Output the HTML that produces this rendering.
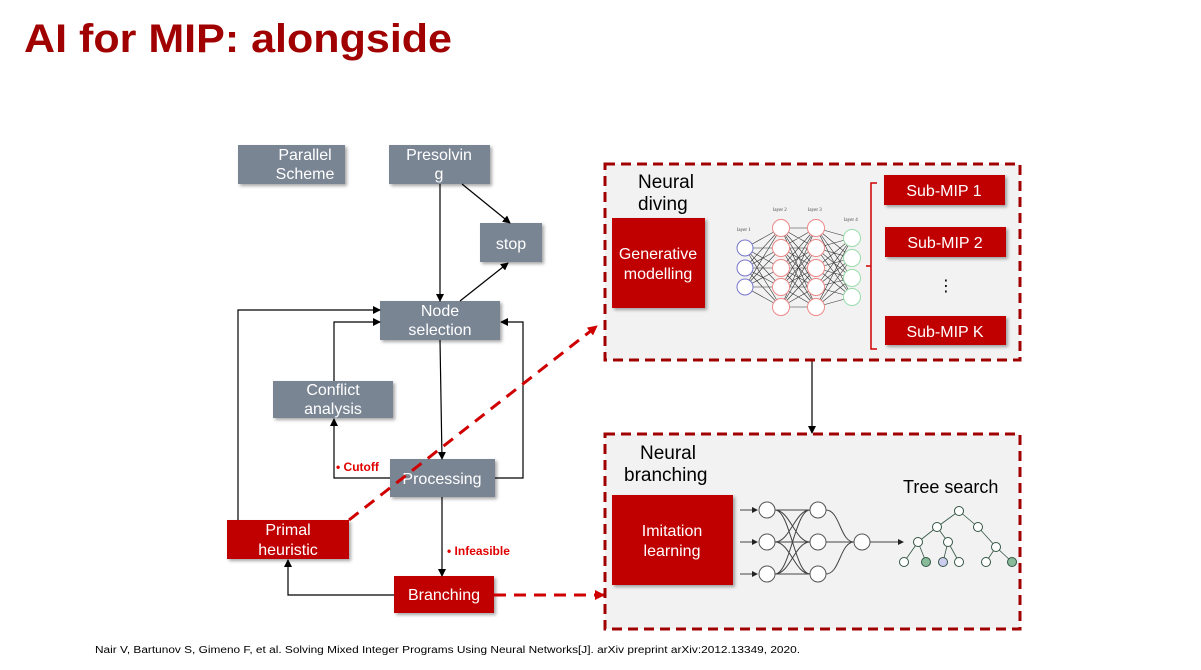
<!DOCTYPE html><html><head><style>
body{margin:0;width:1201px;height:665px;background:#fff;overflow:hidden;font-family:"Liberation Sans","DejaVu Sans",sans-serif;}
</style></head><body>
<svg width="1201" height="665" viewBox="0 0 1201 665" xmlns="http://www.w3.org/2000/svg" font-family="Liberation Sans, DejaVu Sans, sans-serif">
<defs>
<marker id="a" markerWidth="8" markerHeight="8" refX="7" refY="4" orient="auto" markerUnits="userSpaceOnUse"><path d="M0,0 L8,4 L0,8 z" fill="#000"/></marker>
<marker id="r" markerWidth="10" markerHeight="10" refX="9" refY="5" orient="auto" markerUnits="userSpaceOnUse"><path d="M0,0 L10,5 L0,10 z" fill="#d00000"/></marker>
<marker id="s" markerWidth="6" markerHeight="6" refX="5" refY="3" orient="auto" markerUnits="userSpaceOnUse"><path d="M0,0 L6,3 L0,6 z" fill="#222"/></marker>
<filter id="sh"><feDropShadow dx="2" dy="2" stdDeviation="1.5" flood-opacity="0.35"/></filter>
</defs>
<text x="24" y="52" font-size="40" font-weight="bold" fill="#a00000" textLength="428" lengthAdjust="spacingAndGlyphs">AI for MIP: alongside</text>

<g filter="url(#sh)">
<rect x="238" y="145" width="107" height="39" fill="#7a8594"/>
<rect x="389" y="145" width="101" height="39" fill="#7a8594"/>
<rect x="480" y="223" width="62" height="39" fill="#7a8594"/>
<rect x="380" y="301" width="120" height="39" fill="#7a8594"/>
<rect x="273" y="381" width="120" height="37" fill="#7a8594"/>
<rect x="390" y="459" width="105" height="38" fill="#7a8594"/>
<rect x="227" y="520" width="122" height="39" fill="#c00000"/>
<rect x="394" y="576" width="100" height="37" fill="#c00000"/>
</g>
<g fill="#fff" font-size="16" text-anchor="middle">
<text x="305" y="160">Parallel</text><text x="305" y="179">Scheme</text>
<text x="439" y="160">Presolvin</text><text x="439" y="179">g</text>
<text x="511" y="249">stop</text>
<text x="440" y="316">Node</text><text x="440" y="335">selection</text>
<text x="333" y="395">Conflict</text><text x="333" y="414">analysis</text>
<text x="442" y="484">Processing</text>
<text x="288" y="535">Primal</text><text x="288" y="555">heuristic</text>
<text x="444" y="600">Branching</text>
</g>
<g stroke="#000" stroke-width="1.2" fill="none">
<line x1="440" y1="184" x2="440" y2="301" marker-end="url(#a)"/>
<line x1="462" y1="184" x2="510" y2="223" marker-end="url(#a)"/>
<line x1="460" y1="301" x2="508" y2="263" marker-end="url(#a)"/>
<line x1="440" y1="340" x2="442" y2="459" marker-end="url(#a)"/>
<line x1="442" y1="497" x2="442" y2="576" marker-end="url(#a)"/>
<polyline points="394,595 288,595 288,560" marker-end="url(#a)"/>
<polyline points="238,520 238,310 380,310" marker-end="url(#a)"/>
<polyline points="390,478 334,478 334,419" marker-end="url(#a)"/>
<polyline points="334,381 334,322 380,322" marker-end="url(#a)"/>
<polyline points="495,478 523,478 523,322 501,322" marker-end="url(#a)"/>
<line x1="812" y1="360" x2="812" y2="433" marker-end="url(#a)"/>
</g>
<text x="336" y="471" font-size="12" font-weight="bold" fill="#e00000">• Cutoff</text>
<text x="447" y="555" font-size="12" font-weight="bold" fill="#e00000">• Infeasible</text>
<line x1="349" y1="520" x2="597" y2="326" stroke="#d00000" stroke-width="3" stroke-dasharray="12,8" marker-end="url(#r)"/>
<line x1="494" y1="595" x2="604" y2="595" stroke="#d00000" stroke-width="3" stroke-dasharray="12,8" marker-end="url(#r)"/>

<rect x="605" y="164" width="415" height="196" fill="#f2f2f2" stroke="#a00000" stroke-width="3" stroke-dasharray="10,6"/>
<text x="638" y="188" font-size="19" fill="#000">Neural</text>
<text x="638" y="210" font-size="19" fill="#000">diving</text>
<rect x="612" y="218" width="93" height="90" fill="#c00000" filter="url(#sh)"/>
<text x="658" y="259" font-size="16" fill="#fff" text-anchor="middle">Generative</text>
<text x="658" y="279" font-size="16" fill="#fff" text-anchor="middle">modelling</text>
<g stroke="#333" stroke-width="0.6">
<path d="M745,248 L781,228 M745,248 L781,248 M745,248 L781,268 M745,248 L781,287 M745,248 L781,307 M745,268 L781,228 M745,268 L781,248 M745,268 L781,268 M745,268 L781,287 M745,268 L781,307 M745,287 L781,228 M745,287 L781,248 M745,287 L781,268 M745,287 L781,287 M745,287 L781,307"/>
<path d="M781,228 L816,228 M781,228 L816,248 M781,228 L816,268 M781,228 L816,287 M781,228 L816,307 M781,248 L816,228 M781,248 L816,248 M781,248 L816,268 M781,248 L816,287 M781,248 L816,307 M781,268 L816,228 M781,268 L816,248 M781,268 L816,268 M781,268 L816,287 M781,268 L816,307 M781,287 L816,228 M781,287 L816,248 M781,287 L816,268 M781,287 L816,287 M781,287 L816,307 M781,307 L816,228 M781,307 L816,248 M781,307 L816,268 M781,307 L816,287 M781,307 L816,307"/>
<path d="M816,228 L852,238 M816,228 L852,258 M816,228 L852,278 M816,228 L852,297 M816,248 L852,238 M816,248 L852,258 M816,248 L852,278 M816,248 L852,297 M816,268 L852,238 M816,268 L852,258 M816,268 L852,278 M816,268 L852,297 M816,287 L852,238 M816,287 L852,258 M816,287 L852,278 M816,287 L852,297 M816,307 L852,238 M816,307 L852,258 M816,307 L852,278 M816,307 L852,297"/>
</g>
<g fill="#fff" stroke-width="1">
<g stroke="#7777cc"><circle cx="745" cy="248" r="8"/><circle cx="745" cy="268" r="8"/><circle cx="745" cy="287" r="8"/></g>
<g stroke="#ee8888"><circle cx="781" cy="228" r="8.5"/><circle cx="781" cy="248" r="8.5"/><circle cx="781" cy="268" r="8.5"/><circle cx="781" cy="287" r="8.5"/><circle cx="781" cy="307" r="8.5"/>
<circle cx="816" cy="228" r="8.5"/><circle cx="816" cy="248" r="8.5"/><circle cx="816" cy="268" r="8.5"/><circle cx="816" cy="287" r="8.5"/><circle cx="816" cy="307" r="8.5"/></g>
<g stroke="#99ddaa"><circle cx="852" cy="238" r="8.5"/><circle cx="852" cy="258" r="8.5"/><circle cx="852" cy="278" r="8.5"/><circle cx="852" cy="297" r="8.5"/></g>
</g>
<g font-size="5" fill="#444" font-family="Liberation Serif, serif"><text x="737" y="231">layer 1</text><text x="773" y="211">layer 2</text><text x="808" y="211">layer 3</text><text x="844" y="221">layer 4</text></g>
<path d="M877,183 L871,183 L871,349 L877,349 M871,266 L866,266" stroke="#d00000" stroke-width="1.5" fill="none"/>
<g filter="url(#sh)">
<rect x="884" y="175" width="121" height="30" fill="#c00000"/>
<rect x="885" y="227" width="121" height="30" fill="#c00000"/>
<rect x="885" y="316" width="121" height="29" fill="#c00000"/>
</g>
<g fill="#fff" font-size="16" text-anchor="middle"><text x="944" y="196">Sub-MIP 1</text><text x="945" y="248">Sub-MIP 2</text><text x="945" y="337">Sub-MIP K</text></g>
<text x="946" y="291" font-size="16" text-anchor="middle">⋮</text>

<rect x="605" y="434" width="415" height="195" fill="#f2f2f2" stroke="#a00000" stroke-width="3" stroke-dasharray="10,6"/>
<text x="640" y="459" font-size="19" fill="#000">Neural</text>
<text x="624" y="481" font-size="19" fill="#000">branching</text>
<rect x="612" y="495" width="121" height="90" fill="#c00000" filter="url(#sh)"/>
<text x="672" y="536" font-size="16" fill="#fff" text-anchor="middle">Imitation</text>
<text x="672" y="556" font-size="16" fill="#fff" text-anchor="middle">learning</text>
<g stroke="#444" stroke-width="1" fill="none">
<line x1="740" y1="510" x2="757" y2="510" marker-end="url(#s)"/><line x1="740" y1="542" x2="757" y2="542" marker-end="url(#s)"/><line x1="740" y1="574" x2="757" y2="574" marker-end="url(#s)"/>
<path d="M775,510 L810,510 M775,510 C790,510 795,542 810,542 M775,510 C790,510 795,574 810,574 M775,542 C790,542 795,510 810,510 M775,542 L810,542 M775,542 C790,542 795,574 810,574 M775,574 C790,574 795,510 810,510 M775,574 C790,574 795,542 810,542 M775,574 L810,574"/>
<path d="M826,510 C840,510 840,542 854,542 M826,542 L854,542 M826,574 C840,574 840,542 854,542"/>
<line x1="870" y1="542" x2="903" y2="542" marker-end="url(#s)"/>
</g>
<g fill="#fff" stroke="#555" stroke-width="1"><circle cx="767" cy="510" r="8"/><circle cx="767" cy="542" r="8"/><circle cx="767" cy="574" r="8"/><circle cx="818" cy="510" r="8"/><circle cx="818" cy="542" r="8"/><circle cx="818" cy="574" r="8"/><circle cx="862" cy="542" r="8"/></g>
<text x="903" y="493" font-size="18" fill="#000">Tree search</text>
<g stroke="#335544" stroke-width="0.8" fill="none">
<path d="M959,511 L937,527 M959,511 L978,527 M937,527 L918,542 M937,527 L948,542 M978,527 L996,547 M918,542 L904,562 M918,542 L926,562 M948,542 L943,562 M948,542 L959,562 M996,547 L986,562 M996,547 L1012,562"/>
</g>
<g stroke="#335544" stroke-width="1" fill="#fff">
<circle cx="959" cy="511" r="4.5"/><circle cx="937" cy="527" r="4.5"/><circle cx="978" cy="527" r="4.5"/><circle cx="918" cy="542" r="4.5"/><circle cx="948" cy="542" r="4.5"/><circle cx="996" cy="547" r="4.5"/>
<circle cx="904" cy="562" r="4.5"/><circle cx="926" cy="562" r="4.5" fill="#88bb99"/><circle cx="943" cy="562" r="4.5" fill="#ccccee"/><circle cx="959" cy="562" r="4.5"/><circle cx="986" cy="562" r="4.5"/><circle cx="1012" cy="562" r="4.5" fill="#88bb99"/>
</g>
<text x="95" y="653" font-size="10" fill="#000" textLength="705" lengthAdjust="spacingAndGlyphs">Nair V, Bartunov S, Gimeno F, et al. Solving Mixed Integer Programs Using Neural Networks[J]. arXiv preprint arXiv:2012.13349, 2020.</text>
</svg>
</body></html>
